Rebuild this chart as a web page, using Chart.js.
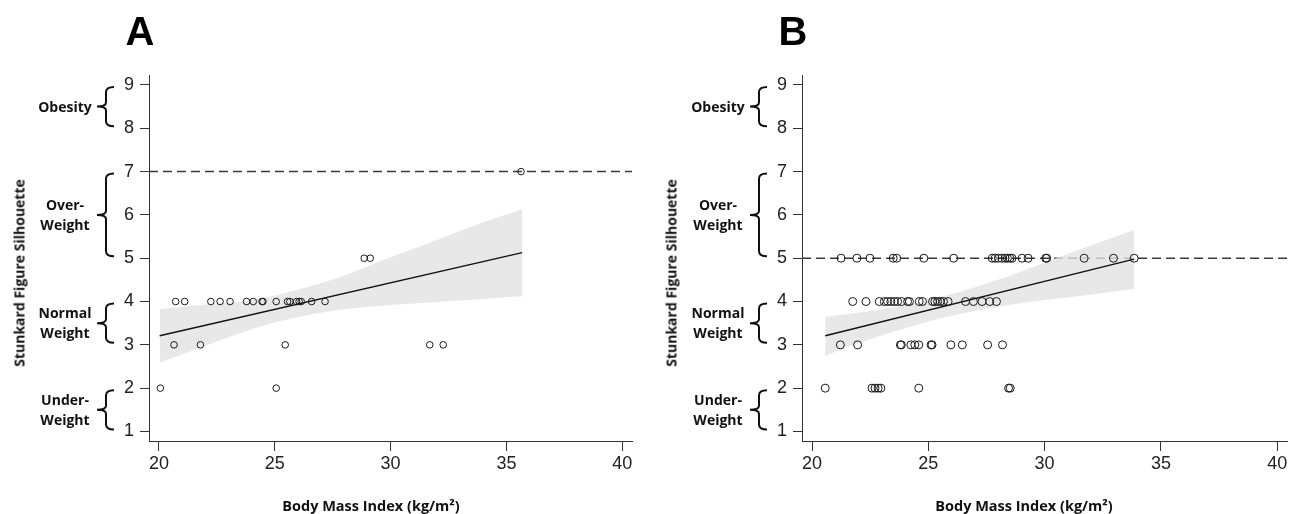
<!DOCTYPE html>
<html>
<head>
<meta charset="utf-8">
<script src="https://cdn.jsdelivr.net/npm/chart.js@4"></script>
<style>
  body { margin: 0; background: #fff; width: 1295px; height: 514px; position: relative; overflow: hidden; font-family: "Open Sans", sans-serif; }
  canvas { position: absolute; top: 0; }
  #cA { left: 0; }
  #cB { left: 652px; }
  .lbl { position: absolute; font-weight: bold; font-size: 14px; color: #111; text-align: center; line-height: 20px; transform: translate(-50%, -50%); white-space: nowrap; }
  .xtitle { position: absolute; font-weight: bold; font-size: 14.5px; color: #111; white-space: nowrap; transform: translate(-50%, -50%); }
  .panel { position: absolute; font-family: "Liberation Sans", Arial, sans-serif; font-weight: bold; font-size: 40px; line-height: 40px; transform: translate(-50%, -50%); }
  .ytitle { position: absolute; font-weight: bold; font-size: 14px; color: #111; white-space: nowrap; transform: translate(-50%, -50%) rotate(-90deg); }
</style>
</head>
<body>
<canvas id="cA" width="647" height="514"></canvas>
<canvas id="cB" width="643" height="514"></canvas>
<script>
// axis ticks and groups
const xTicks = [20, 25, 30, 35, 40];
const yTicks = [1, 2, 3, 4, 5, 6, 7, 8, 9];
const groupNames = ['Obesity', 'Over-<br>Weight', 'Normal<br>Weight', 'Under-<br>Weight'];
const groupLow = [8, 5, 3, 1];
const groupHigh = [9, 7, 4, 2];
const xTitle = 'Body Mass Index (kg/m²)';
const yTitle = 'Stunkard Figure Silhouette';

// panel A
const bmiA = [35.63, 28.86, 29.12,
  20.72, 21.11, 22.24, 22.64, 23.07, 23.78, 24.07, 24.45, 24.49, 25.06, 25.55, 25.65, 25.94, 26.05, 26.14, 26.59, 27.17,
  20.65, 21.79, 25.45, 31.69, 32.27,
  20.06, 25.06];
const silA = [7, 5, 5,
  4, 4, 4, 4, 4, 4, 4, 4, 4, 4, 4, 4, 4, 4, 4, 4, 4,
  3, 3, 3, 3, 3,
  2, 2];
const fitAx = [20.03, 35.68];
const fitAy = [3.21, 5.13];
const bandAx = [20.03, 22, 24, 26, 28, 30, 32, 34, 35.68];
const bandAhi = [3.82, 3.93, 4.03, 4.27, 4.60, 5.02, 5.42, 5.83, 6.13];
const bandAlo = [2.59, 2.98, 3.36, 3.64, 3.82, 3.92, 3.99, 4.06, 4.12];
const refA = 7;

// panel B
const bmiB = [21.25, 21.93, 22.49, 23.49, 23.64, 24.81, 26.09, 27.75, 27.87, 28.01, 28.16, 28.30, 28.40, 28.51, 28.60, 29.03, 29.29, 30.05, 30.09, 31.70, 32.96, 33.85,
  21.75, 22.32, 22.89, 23.11, 23.25, 23.39, 23.54, 23.68, 23.85, 24.11, 24.19, 24.61, 24.75, 25.18, 25.28, 25.40, 25.51, 25.65, 25.85, 26.60, 26.94, 27.31, 27.64, 27.93,
  21.22, 21.96, 23.80, 23.84, 24.25, 24.42, 24.59, 25.12, 25.16, 25.97, 26.46, 27.55, 28.19,
  20.57, 22.58, 22.71, 22.84, 22.96, 24.59, 28.45, 28.52];
const silB = [5, 5, 5, 5, 5, 5, 5, 5, 5, 5, 5, 5, 5, 5, 5, 5, 5, 5, 5, 5, 5, 5,
  4, 4, 4, 4, 4, 4, 4, 4, 4, 4, 4, 4, 4, 4, 4, 4, 4, 4, 4, 4, 4, 4, 4, 4,
  3, 3, 3, 3, 3, 3, 3, 3, 3, 3, 3, 3, 3,
  2, 2, 2, 2, 2, 2, 2, 2];
const fitBx = [20.57, 33.85];
const fitBy = [3.21, 4.98];
const bandBx = [20.57, 22.0, 23.5, 25.0, 26.5, 28.0, 29.5, 31.5, 33.85];
const bandBhi = [3.65, 3.74, 3.87, 4.03, 4.25, 4.50, 4.80, 5.20, 5.65];
const bandBlo = [2.75, 3.04, 3.30, 3.54, 3.73, 3.88, 4.00, 4.13, 4.29];
const refB = 5;

const xMin = 19.57, xMax = 40.42, yMin = 0.78, yMax = 9.23;

function pairs(xs, ys) {
  return xs.map((x, i) => ({ x: x, y: ys[i] }));
}

// curly brackets next to the y axis
const bracesPlugin = {
  id: 'braces',
  afterDraw(chart) {
    const ctx = chart.ctx;
    const y = chart.scales.y;
    const xv = chart.chartArea.left - 43;
    ctx.save();
    ctx.strokeStyle = '#111';
    ctx.lineWidth = 2;
    for (let i = 0; i < groupLow.length; i++) {
      const top = y.getPixelForValue(groupHigh[i]) + 2;
      const bot = y.getPixelForValue(groupLow[i]) - 2;
      const mid = (top + bot) / 2;
      ctx.beginPath();
      ctx.moveTo(xv + 8, top);
      ctx.quadraticCurveTo(xv, top, xv, top + 5);
      ctx.lineTo(xv, mid - 4);
      ctx.quadraticCurveTo(xv, mid, xv - 9, mid);
      ctx.quadraticCurveTo(xv, mid, xv, mid + 4);
      ctx.lineTo(xv, bot - 5);
      ctx.quadraticCurveTo(xv, bot, xv + 8, bot);
      ctx.stroke();
    }
    ctx.restore();
  }
};

function makePanel(id, bmi, sil, fx, fy, bx, bhi, blo, ref, radius, padLeft, padRight) {
  const tickFont = { family: '"Liberation Sans", Arial, sans-serif', size: 18 };
  return new Chart(document.getElementById(id), {
    type: 'scatter',
    data: {
      datasets: [
        {
          data: pairs(bmi, sil),
          pointStyle: 'circle',
          pointRadius: radius,
          backgroundColor: 'rgba(0,0,0,0)',
          borderColor: '#1a1a1a',
          borderWidth: 1,
          order: 0
        },
        {
          type: 'line',
          data: pairs(fx, fy),
          borderColor: '#111',
          borderWidth: 1.3,
          pointRadius: 0,
          fill: false,
          order: 1
        },
        {
          type: 'line',
          data: pairs(bx, bhi),
          borderWidth: 0,
          pointRadius: 0,
          cubicInterpolationMode: 'monotone',
          backgroundColor: 'rgba(226,226,226,0.8)',
          fill: '+1',
          order: 2
        },
        {
          type: 'line',
          data: pairs(bx, blo),
          borderWidth: 0,
          pointRadius: 0,
          cubicInterpolationMode: 'monotone',
          fill: false,
          order: 2
        },
        {
          type: 'line',
          data: [{ x: xMin, y: ref }, { x: xMax, y: ref }],
          borderColor: '#3a3a3a',
          borderWidth: 1.5,
          borderDash: [9, 5],
          pointRadius: 0,
          fill: false,
          order: 3
        }
      ]
    },
    options: {
      responsive: false,
      animation: false,
      layout: { padding: { left: padLeft, right: padRight, top: 75, bottom: 33 } },
      plugins: { legend: { display: false }, tooltip: { enabled: false } },
      scales: {
        x: {
          type: 'linear',
          min: xMin,
          max: xMax,
          afterBuildTicks: s => { s.ticks = xTicks.map(v => ({ value: v })); },
          afterFit: s => { s.height = 40; },
          ticks: { font: tickFont, color: '#222', padding: 2, maxRotation: 0, autoSkip: false },
          grid: { drawOnChartArea: false, drawTicks: true, tickLength: 10, color: '#333' },
          border: { color: '#333', width: 1 }
        },
        y: {
          type: 'linear',
          min: yMin,
          max: yMax,
          afterBuildTicks: s => { s.ticks = yTicks.map(v => ({ value: v })); },
          afterFit: s => { s.width = 50; },
          ticks: { font: tickFont, color: '#222', padding: 6, autoSkip: false },
          grid: { drawOnChartArea: false, drawTicks: true, tickLength: 9, color: '#333' },
          border: { color: '#333', width: 1 }
        }
      }
    },
    plugins: [bracesPlugin]
  });
}

const chartA = makePanel('cA', bmiA, silA, fitAx, fitAy, bandAx, bandAhi, bandAlo, refA, 3.3, 99, 15);
const chartB = makePanel('cB', bmiB, silB, fitBx, fitBy, bandBx, bandBhi, bandBlo, refB, 4, 100, 8);

// text around each panel
function addText(cls, html, left, top) {
  const d = document.createElement('div');
  d.className = cls;
  d.innerHTML = html;
  d.style.left = left + 'px';
  d.style.top = top + 'px';
  document.body.appendChild(d);
}

[[chartA, 0, 'A'], [chartB, 652, 'B']].forEach(([ch, off, letter]) => {
  const y = ch.scales.y;
  const area = ch.chartArea;
  addText('panel', letter, off + area.left - 9, 31);
  addText('ytitle', yTitle, off + 19, 273);
  addText('xtitle', xTitle, off + area.left + 222, 505);
  for (let i = 0; i < groupNames.length; i++) {
    const mid = (y.getPixelForValue(groupHigh[i]) + y.getPixelForValue(groupLow[i])) / 2;
    addText('lbl', groupNames[i], off + area.left - 84, mid);
  }
});
</script>
</body>
</html>
